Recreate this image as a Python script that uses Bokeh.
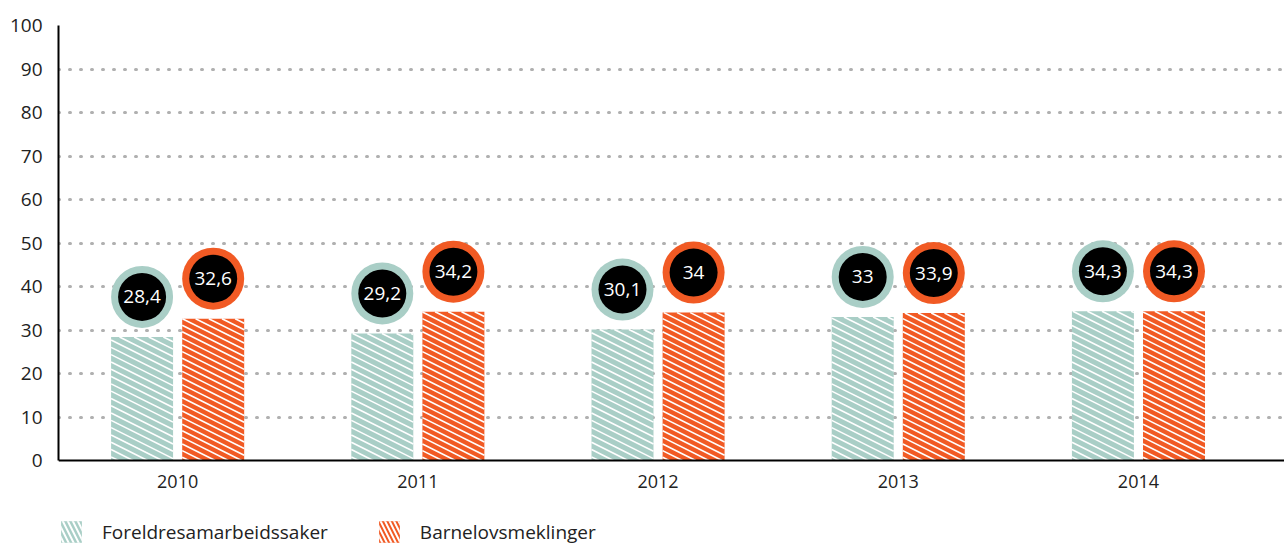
from bokeh.plotting import figure
from bokeh.models import ColumnDataSource, Range1d, FixedTicker, Legend, LegendItem
from bokeh.core.properties import value
from bokeh.embed import file_html
from bokeh.resources import INLINE

years = ["2010", "2011", "2012", "2013", "2014"]
foreldre = [28.4, 29.2, 30.1, 33.0, 34.3]
barnelov = [32.6, 34.2, 34.0, 33.9, 34.3]
foreldre_labels = ["28,4", "29,2", "30,1", "33", "34,3"]
barnelov_labels = ["32,6", "34,2", "34", "33,9", "34,3"]
series_names = ["Foreldresamarbeidssaker", "Barnelovsmeklinger"]
y_ticks = [0, 10, 20, 30, 40, 50, 60, 70, 80, 90, 100]

TEAL = "#a9cec6"
ORANGE = "#f15a24"
FONT = "Open Sans"

FW, FH = 1226, 522
X0, X1 = -0.496, 4.608
Y0, Y1 = -20, 100
SX = FW / (X1 - X0)   # px per x unit
SY = FH / (Y1 - Y0)   # px per y unit

xs = list(range(len(years)))
off = 0.148
bw = 0.258
bubble = 9.2

src_a = ColumnDataSource(dict(x=[i - off for i in xs], y=foreldre,
                              yb=[v + bubble for v in foreldre], lab=foreldre_labels))
src_b = ColumnDataSource(dict(x=[i + off for i in xs], y=barnelov,
                              yb=[v + bubble for v in barnelov], lab=barnelov_labels))


def stripes(centers, heights, spacing, slope=0.5):
    """White stripe segments (screen slope 'slope', going down-right) clipped to each bar."""
    x0s, y0s, x1s, y1s = [], [], [], []
    w = bw * SX
    for cx, v in zip(centers, heights):
        h = v * SY
        left = cx - bw / 2
        c = spacing / 2
        while c < h + slope * w:
            pts = []
            for xx in (0.0, w):
                yy = c - slope * xx
                if 0 <= yy <= h:
                    pts.append((xx, yy))
            for yy in (0.0, h):
                xx = (c - yy) / slope
                if 0 <= xx <= w:
                    pts.append((xx, yy))
            pts = sorted(set(pts))
            if len(pts) >= 2:
                (ax, ay), (bx, by) = pts[0], pts[-1]
                x0s.append(left + ax / SX); y0s.append(ay / SY)
                x1s.append(left + bx / SX); y1s.append(by / SY)
            c += spacing
    return dict(x0=x0s, y0=y0s, x1=x1s, y1=y1s)


p = figure(frame_width=FW, frame_height=FH, output_backend="svg", toolbar_location=None,
           x_range=Range1d(X0, X1), y_range=Range1d(Y0, Y1),
           min_border_left=58, min_border_right=0, min_border_top=25, min_border_bottom=0)
p.outline_line_color = None
p.background_fill_color = "white"

# grid
p.xgrid.visible = False
p.ygrid.ticker = FixedTicker(ticks=y_ticks[1:])
p.ygrid.grid_line_color = "#b0b0b0"
p.ygrid.grid_line_width = 3
p.ygrid.grid_line_dash = "1 10"
p.ygrid.grid_line_cap = "round"

# axes
p.yaxis.ticker = FixedTicker(ticks=y_ticks)
p.yaxis.bounds = (0, 100)
p.yaxis.axis_line_color = "black"
p.yaxis.axis_line_width = 2
p.yaxis.major_tick_line_color = None
p.yaxis.minor_tick_line_color = None
p.yaxis.major_label_text_font = FONT
p.yaxis.major_label_text_font_size = "19px"
p.yaxis.major_label_text_color = "#222222"
p.yaxis.major_label_standoff = 10

p.xaxis.fixed_location = 0
p.xaxis.ticker = FixedTicker(ticks=xs)
p.xaxis.major_label_overrides = {i: y for i, y in zip(xs, years)}
p.xaxis.axis_line_color = "black"
p.xaxis.axis_line_width = 2
p.xaxis.major_tick_line_color = None
p.xaxis.minor_tick_line_color = None
p.xaxis.major_label_text_font = FONT
p.xaxis.major_label_text_font_size = "18px"
p.xaxis.major_label_text_color = "#222222"
p.xaxis.major_label_standoff = 8

p.vbar(x="x", top="y", width=bw, source=src_a, fill_color=TEAL, line_color=None)
p.vbar(x="x", top="y", width=bw, source=src_b, fill_color=ORANGE, line_color=None)
p.segment(x0="x0", y0="y0", x1="x1", y1="y1", line_color="white", line_width=1.6,
          source=ColumnDataSource(stripes(src_a.data["x"], foreldre, 7.3)))
p.segment(x0="x0", y0="y0", x1="x1", y1="y1", line_color="white", line_width=1.6,
          source=ColumnDataSource(stripes(src_b.data["x"], barnelov, 6.6)))

for src, col in ((src_a, TEAL), (src_b, ORANGE)):
    p.scatter(x="x", y="yb", source=src, size=62, fill_color=col, line_color=None)
    p.scatter(x="x", y="yb", source=src, size=48, fill_color="black", line_color=None)
    p.text(x="x", y="yb", text="lab", source=src, text_align="center", text_baseline="middle",
           text_color="white", text_font=value(FONT), text_font_size="19px")

# legend-only swatches (hatched), kept outside the visible x range
hidden = dict(x=[X0 - 1], y=[1])
la = p.vbar(x="x", top="y", width=bw, source=ColumnDataSource(hidden), fill_color=TEAL,
            line_color=None, hatch_pattern="left_diagonal_line", hatch_color="white",
            hatch_weight=2, hatch_scale=10)
lb = p.vbar(x="x", top="y", width=bw, source=ColumnDataSource(hidden), fill_color=ORANGE,
            line_color=None, hatch_pattern="left_diagonal_line", hatch_color="white",
            hatch_weight=2, hatch_scale=9)

legend = Legend(items=[LegendItem(label=series_names[0], renderers=[la]),
                       LegendItem(label=series_names[1], renderers=[lb])],
                orientation="horizontal", location=(0, 2),
                glyph_width=26, glyph_height=27, label_standoff=18, spacing=48,
                padding=0, margin=0, border_line_color=None, background_fill_alpha=0,
                label_text_font=FONT, label_text_font_size="19px", label_text_color="#222222")
p.add_layout(legend)

open("out.html", "w").write(file_html(p, INLINE))
